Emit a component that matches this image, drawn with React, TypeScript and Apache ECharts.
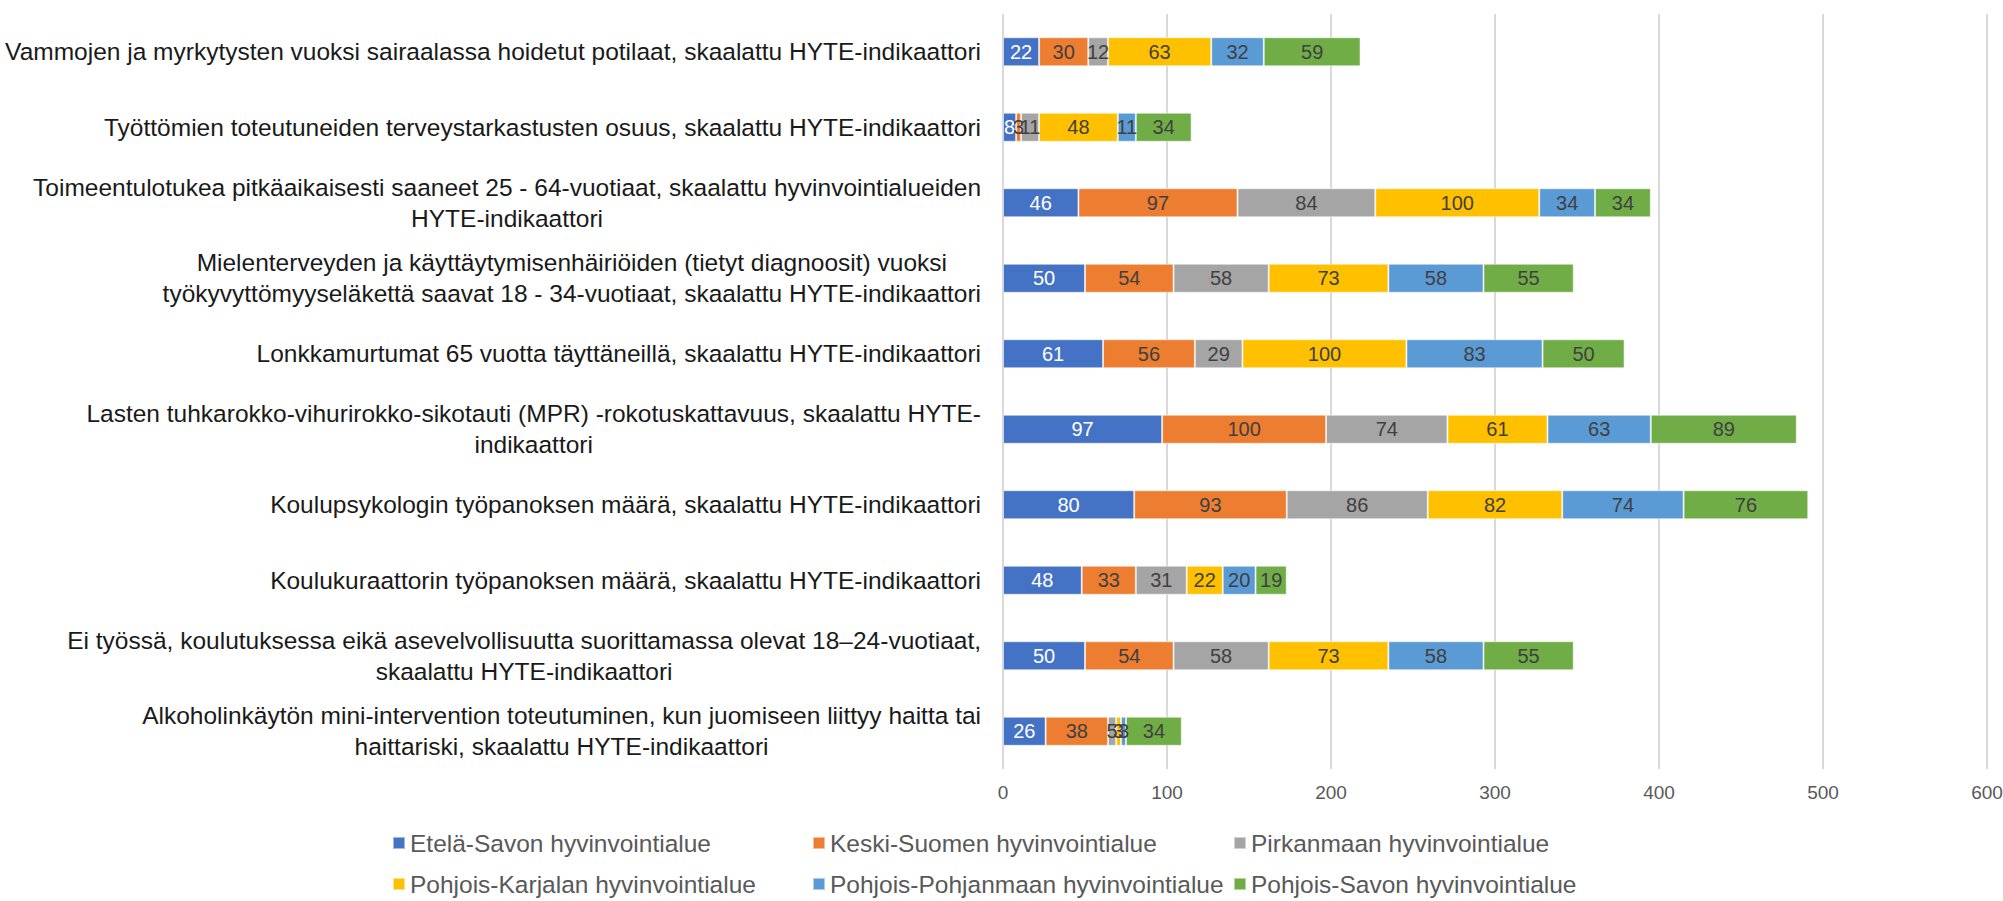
import React, { useEffect, useRef } from "react";
import * as echarts from "echarts";

const categories = [
  "Vammojen ja myrkytysten vuoksi sairaalassa hoidetut potilaat, skaalattu HYTE-indikaattori",
  "Työttömien toteutuneiden terveystarkastusten osuus, skaalattu HYTE-indikaattori",
  "Toimeentulotukea pitkäaikaisesti saaneet 25 - 64-vuotiaat, skaalattu hyvinvointialueiden\nHYTE-indikaattori",
  "Mielenterveyden ja käyttäytymisenhäiriöiden (tietyt diagnoosit) vuoksi\ntyökyvyttömyyseläkettä saavat 18 - 34-vuotiaat, skaalattu HYTE-indikaattori",
  "Lonkkamurtumat 65 vuotta täyttäneillä, skaalattu HYTE-indikaattori",
  "Lasten tuhkarokko-vihurirokko-sikotauti (MPR) -rokotuskattavuus, skaalattu HYTE-\nindikaattori",
  "Koulupsykologin työpanoksen määrä, skaalattu HYTE-indikaattori",
  "Koulukuraattorin työpanoksen määrä, skaalattu HYTE-indikaattori",
  "Ei työssä, koulutuksessa eikä asevelvollisuutta suorittamassa olevat 18–24-vuotiaat,\nskaalattu HYTE-indikaattori",
  "Alkoholinkäytön mini-intervention toteutuminen, kun juomiseen liittyy haitta tai\nhaittariski, skaalattu HYTE-indikaattori",
];

const seriesNames = [
  "Etelä-Savon hyvinvointialue",
  "Keski-Suomen hyvinvointialue",
  "Pirkanmaan hyvinvointialue",
  "Pohjois-Karjalan hyvinvointialue",
  "Pohjois-Pohjanmaan hyvinvointialue",
  "Pohjois-Savon hyvinvointialue",
];

const etelaSavo = [22, 8, 46, 50, 61, 97, 80, 48, 50, 26];
const keskiSuomi = [30, 3, 97, 54, 56, 100, 93, 33, 54, 38];
const pirkanmaa = [12, 11, 84, 58, 29, 74, 86, 31, 58, 5];
const pohjoisKarjala = [63, 48, 100, 73, 100, 61, 82, 22, 73, 3];
const pohjoisPohjanmaa = [32, 11, 34, 58, 83, 63, 74, 20, 58, 3];
const pohjoisSavo = [59, 34, 34, 55, 50, 89, 76, 19, 55, 34];

const xTicks = [0, 100, 200, 300, 400, 500, 600];

const seriesValues = [etelaSavo, keskiSuomi, pirkanmaa, pohjoisKarjala, pohjoisPohjanmaa, pohjoisSavo];
const colors = ["#4472C4", "#ED7D31", "#A5A5A5", "#FFC000", "#5B9BD5", "#70AD47"];
const FONT = "'Liberation Sans', Arial, sans-serif";

export default function App() {
  const ref = useRef<HTMLDivElement>(null);
  useEffect(() => {
    document.body.style.margin = "0";
    if (!ref.current) return;
    const chart = echarts.init(ref.current, undefined, { renderer: "svg" });
    const legendPos = [
      [392, 830], [812, 830], [1233, 830],
      [392, 871], [812, 871], [1233, 871],
    ];
    const option: any = {
      animation: false,
      grid: { left: 1003, right: 16, top: 14, bottom: 132, containLabel: false, outerBoundsMode: "none" },
      xAxis: {
        type: "value",
        min: xTicks[0],
        max: xTicks[xTicks.length - 1],
        interval: 100,
        axisLine: { show: false },
        axisTick: { show: false },
        splitLine: { show: true, lineStyle: { color: "#d9d9d9", width: 2 } },
        axisLabel: { color: "#595959", fontSize: 19, fontFamily: FONT, margin: 14 },
      },
      yAxis: {
        type: "category",
        inverse: true,
        data: categories,
        axisLine: { show: false },
        axisTick: { show: false },
        axisLabel: {
          margin: 22,
          align: "right",
          color: "#1a1a1a",
          fontSize: 24.5,
          fontFamily: FONT,
          lineHeight: 31,
          formatter: (v: string) => v.split("\n").map((l) => `{c|${l}}`).join("\n"),
          rich: { c: { align: "center", fontSize: 24.5, fontFamily: FONT, lineHeight: 31, color: "#1a1a1a" } },
        },
      },
      legend: seriesNames.map((n, i) => ({
        data: [n],
        left: legendPos[i][0],
        top: legendPos[i][1],
        padding: 0,
        icon: "rect",
        itemWidth: 12,
        itemHeight: 12,
        itemGap: 0,
        selectedMode: false,
        textStyle: { color: "#595959", fontSize: 24.5, fontFamily: FONT, lineHeight: 26, padding: [0, 0, 0, 0] },
      })),
      series: seriesNames.map((n, i) => ({
        name: n,
        type: "bar",
        stack: "total",
        barWidth: 29,
        data: seriesValues[i],
        itemStyle: { color: colors[i], borderColor: "rgba(255,255,255,0.5)", borderWidth: 1 },
        label: {
          show: true,
          position: "inside",
          color: i === 0 ? "#ffffff" : "#404040",
          fontSize: 20,
          fontFamily: FONT,
        },
      })),
    };
    chart.setOption(option);
    return () => chart.dispose();
  }, []);
  return <div ref={ref} style={{ width: 2003, height: 901 }} />;
}
